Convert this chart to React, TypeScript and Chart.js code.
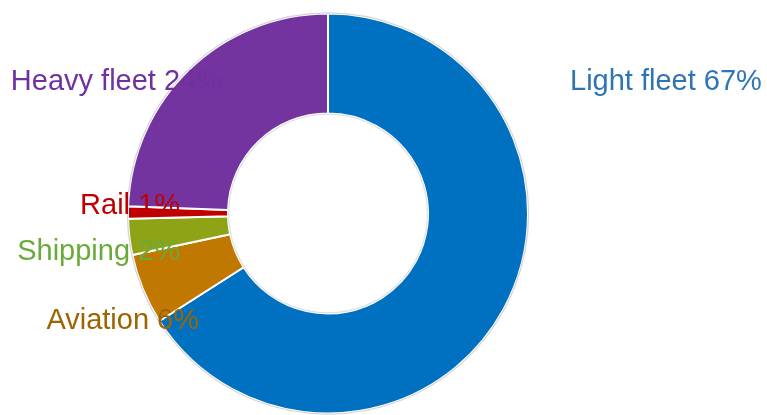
import React, { useEffect, useRef } from "react";
import { Chart, registerables } from "chart.js";

Chart.register(...registerables);

const categories = ["Light fleet", "Aviation", "Shipping", "Rail", "Heavy fleet"];
const shares = [65.9, 5.7, 2.9, 1.0, 24.4];
const shareLabels = ["67%", "6%", "2%", "1%", "24%"];

const sliceColors = ["#0070C0", "#C07800", "#8EA316", "#C00000", "#7334A0"];
const textColors = ["#2F75B5", "#9C6500", "#6AAA3A", "#C00000", "#7030A0"];

// label anchors relative to the doughnut centre, in units of the outer radius
const labelLayout = [
  { dx: 1.21, dy: -0.6175, align: "left" },
  { dx: -0.645, dy: 0.5775, align: "right" },
  { dx: -0.74, dy: 0.2325, align: "right" },
  { dx: -0.74, dy: 0.0, align: "right" },
  { dx: -0.53, dy: -0.6175, align: "right" },
];

const labelPlugin = {
  id: "sliceLabels",
  afterDatasetsDraw(chart: any) {
    const meta = chart.getDatasetMeta(0);
    const arc = meta.data[0];
    if (!arc) return;
    const { x, y, outerRadius, innerRadius } = arc.getProps(["x", "y", "outerRadius", "innerRadius"], true);
    const ctx = chart.ctx;
    ctx.save();
    ctx.lineWidth = 1.2;
    ctx.strokeStyle = "#d4d4d4";
    ctx.beginPath();
    ctx.arc(x, y, outerRadius + 0.6, 0, Math.PI * 2);
    ctx.stroke();
    ctx.beginPath();
    ctx.arc(x, y, innerRadius - 0.6, 0, Math.PI * 2);
    ctx.strokeStyle = "#e0e0e0";
    ctx.stroke();
    ctx.font = "29px 'Liberation Sans', Arial, sans-serif";
    ctx.textBaseline = "alphabetic";
    categories.forEach((c, i) => {
      const l = labelLayout[i];
      ctx.fillStyle = textColors[i];
      ctx.textAlign = l.align as CanvasTextAlign;
      ctx.fillText(c + " " + shareLabels[i], x + l.dx * outerRadius, y + l.dy * outerRadius);
    });
    ctx.restore();
  },
};

export default function App() {
  const ref = useRef<HTMLCanvasElement | null>(null);
  useEffect(() => {
    if (!ref.current) return;
    const chart = new Chart(ref.current, {
      type: "doughnut",
      data: {
        labels: categories,
        datasets: [
          {
            data: shares,
            backgroundColor: sliceColors,
            borderColor: "#ffffff",
            borderWidth: 2,
          },
        ],
      },
      options: {
        responsive: false,
        animation: false,
        cutout: "50%",
        radius: 200,
        layout: { padding: { left: 0, right: 111, top: 12, bottom: 0 } },
        plugins: {
          legend: { display: false },
          tooltip: { enabled: false },
        },
      },
      plugins: [labelPlugin],
    });
    return () => chart.destroy();
  }, []);
  return (
    <div style={{ position: "fixed", left: 0, top: 0, width: 767, height: 415, background: "#fff" }}>
      <canvas ref={ref} width={767} height={415} style={{ display: "block", width: 767, height: 415 }} />
    </div>
  );
}
